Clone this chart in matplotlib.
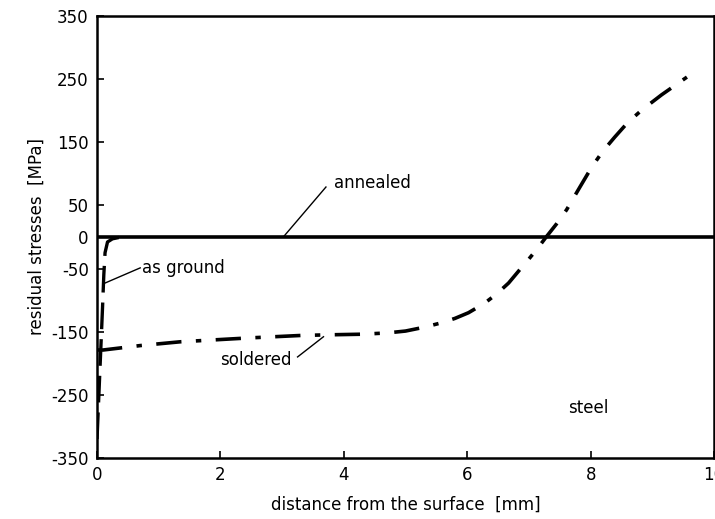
import matplotlib.pyplot as plt

plt.rcParams['font.family'] = ['Liberation Sans Narrow', 'DejaVu Sans']
plt.rcParams['axes.unicode_minus'] = False

# values (distance in mm, stress in MPa)
annealed_x = [0, 10]
annealed_y = [0, 0]

ground_x = [0.0, 0.03, 0.06, 0.09, 0.11, 0.13, 0.17, 0.25, 0.35, 0.45]
ground_y = [-320, -250, -180, -110, -60, -25, -8, -3, -1, 0]

soldered_x = [0.0, 0.1, 0.7, 1.35, 2.44, 3.3, 3.74, 4.3, 4.7, 5.0, 5.3, 5.58,
              5.8, 6.02, 6.28, 6.48, 6.67, 6.85, 6.99, 7.14, 7.28, 7.45, 7.61,
              7.82, 8.02, 8.2, 8.39, 8.6, 8.83, 9.15, 9.56]
soldered_y = [-179, -179, -172, -166, -160, -156, -155, -154, -152, -149, -143,
              -136, -129, -120, -105, -90, -73, -52, -36, -18, 0, 21, 43,
              78, 111, 136, 158, 181, 201, 225, 253]

yticks = [350, 250, 150, 50, 0, -50, -150, -250, -350]
xticks = [0, 2, 4, 6, 8, 10]

fig = plt.figure(figsize=(7.15, 5.19), dpi=100)
ax = fig.add_axes([0.1357, 0.1175, 0.863, 0.852])

ax.plot(annealed_x, annealed_y, color='black', lw=2.6, solid_capstyle='butt')
ax.plot(ground_x, ground_y, color='black', lw=2.4, dashes=(8, 3))
ax.plot(soldered_x, soldered_y, color='black', lw=2.6, dashes=(7, 4, 1.5, 4))

# labels with leader lines
ax.text(3.84, 86, 'annealed', fontsize=12, va='center', ha='left')
ax.plot([3.71, 3.02], [79, 0], color='black', lw=1)
ax.text(0.73, -49, 'as ground', fontsize=12, va='center', ha='left')
ax.plot([0.70, 0.13], [-49, -73], color='black', lw=1)
ax.text(2.0, -195, 'soldered', fontsize=12, va='center', ha='left')
ax.plot([3.25, 3.67], [-190, -158], color='black', lw=1)
ax.text(7.64, -271, 'steel', fontsize=12, va='center', ha='left')

ax.set_xlim(0, 10)
ax.set_ylim(-350, 350)
ax.set_xticks(xticks)
ax.set_yticks(yticks)
ax.tick_params(direction='in', length=5, width=1.2, labelsize=12, pad=6)
for s in ax.spines.values():
    s.set_linewidth(1.8)

ax.set_xlabel('distance from the surface  [mm]', fontsize=12, labelpad=8)
ax.set_ylabel('residual stresses  [MPa]', fontsize=12, labelpad=4)

fig.savefig('out.png', dpi=100)
